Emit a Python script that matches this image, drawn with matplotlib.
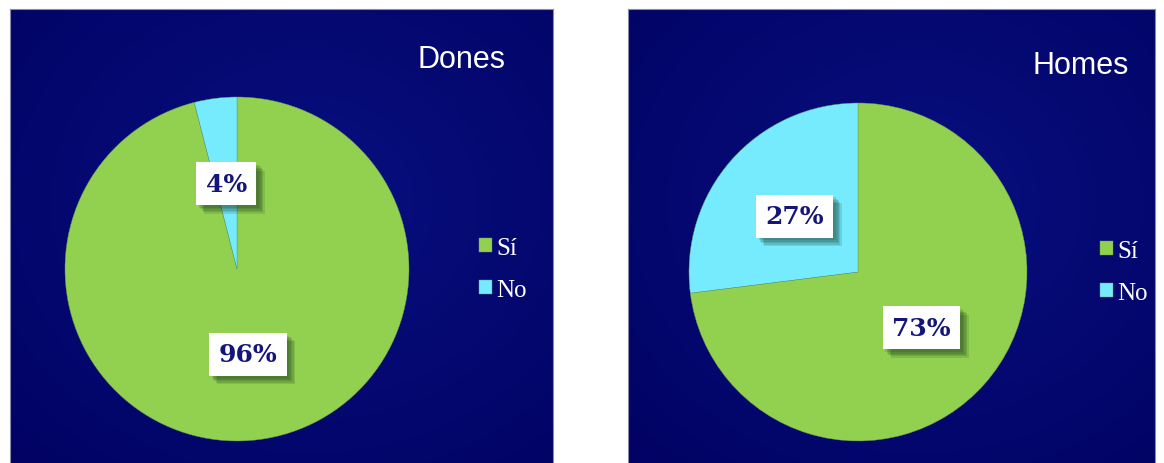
import numpy as np
import matplotlib
matplotlib.use('Agg')
from matplotlib import pyplot as plt
from matplotlib import patheffects

categories = ['Sí', 'No']
dones = [96, 4]
homes = [73, 27]
titles = ['Dones', 'Homes']

colors = ['#92D050', '#75EBFD']
W, H = 1164, 464

fig = plt.figure(figsize=(W / 100, H / 100), dpi=100, facecolor='white')


def px_box(x0, y0, x1, y1):
    # pixel box (top-left origin) -> figure fraction rect
    return [x0 / W, (H - y1) / H, (x1 - x0) / W, (y1 - y0) / H]


def background(rect):
    ax = fig.add_axes(rect)
    yy, xx = np.mgrid[0:1:300j, 0:1:300j]
    d = np.sqrt(((xx - 0.55) / 0.9) ** 2 + ((yy - 0.42) / 0.9) ** 2)
    d = np.clip(d, 0, 1)
    inner = np.array([0.03, 0.06, 0.50])
    outer = np.array([0.0, 0.0, 0.37])
    img = inner[None, None, :] * (1 - d[..., None]) + outer[None, None, :] * d[..., None]
    ax.imshow(img, extent=[0, 1, 0, 1], aspect='auto', origin='upper')
    ax.set_xlim(0, 1)
    ax.set_ylim(0, 1)
    ax.set_xticks([])
    ax.set_yticks([])
    for s in ax.spines.values():
        s.set_color('#8a8ab0')
        s.set_linewidth(0.8)
    return ax


# soft drop shadow built from a few faint offset copies
soft_shadow = [patheffects.withSimplePatchShadow(offset=(o, -o),
                                                 shadow_rgbFace='#0c2a18',
                                                 alpha=0.13)
               for o in (2, 3, 4, 5, 6)] + [patheffects.Normal()]


def draw_pie(values, title, panel, center, r, title_xy, legend_xy):
    background(px_box(*panel))
    cx, cy = center
    ax = fig.add_axes(px_box(cx - r, cy - r, cx + r, cy + r))
    ax.patch.set_alpha(0)
    wedges, texts, autotexts = ax.pie(
        values, colors=colors, startangle=90, counterclock=False,
        autopct='%1.0f%%', pctdistance=0.5,
        wedgeprops=dict(linewidth=0.3, edgecolor='#6a9a50'),
        textprops=dict(family='DejaVu Serif', fontweight='bold',
                       fontsize=18, color='#14147a'))
    ax.set_xlim(-1, 1)
    ax.set_ylim(-1, 1)
    for t in autotexts:
        t.set_bbox(dict(boxstyle='square,pad=0.38', facecolor='white',
                        edgecolor='none'))
        t.get_bbox_patch().set_path_effects(soft_shadow)

    fig.text(title_xy[0] / W, 1 - title_xy[1] / H, title,
             family='Liberation Sans', fontsize=22, color='white',
             ha='center', va='center')

    fig.legend(wedges, categories, loc='center left',
               bbox_to_anchor=(legend_xy[0] / W, 1 - legend_xy[1] / H),
               frameon=False, prop=dict(family='Liberation Serif', size=18),
               labelcolor='white', handlelength=0.5, handleheight=0.5,
               handletextpad=0.2, labelspacing=0.8, borderpad=0,
               borderaxespad=0)


draw_pie(dones, titles[0], (10, 10, 553, 470), (237, 270), 172,
         (462, 60), (479, 270))
draw_pie(homes, titles[1], (628, 10, 1155, 470), (858, 273), 169,
         (1081, 66), (1100, 273))

fig.savefig('out.png', dpi=100, facecolor='white')
